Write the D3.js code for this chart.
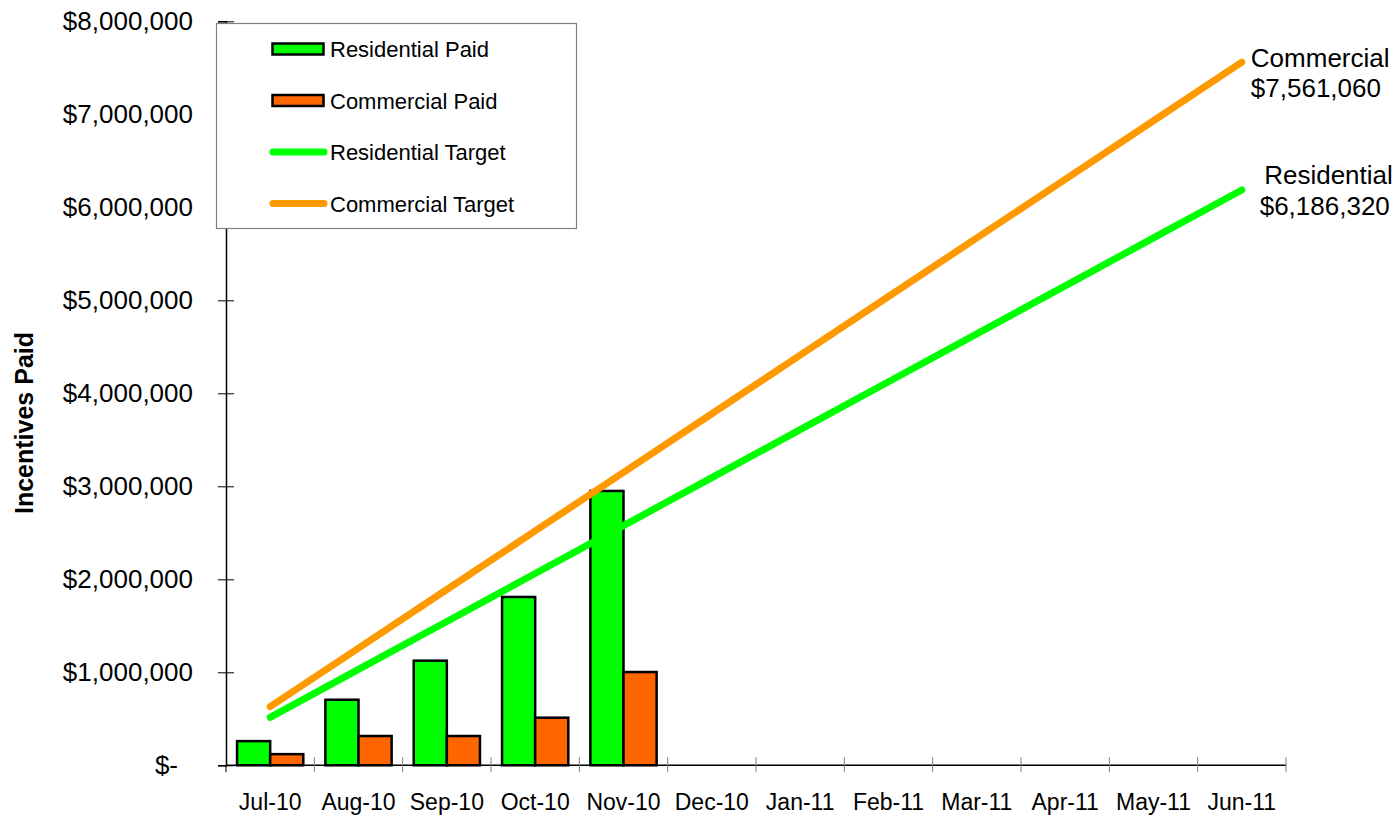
<!DOCTYPE html>
<html>
<head>
<meta charset="utf-8">
<script src="https://cdn.jsdelivr.net/npm/d3@7"></script>
<style>
  body { margin: 0; background: #fff; }
  svg { display: block; font-family: Arial, "Liberation Sans", sans-serif; }
</style>
</head>
<body>
<svg id="chart" width="1399" height="818"></svg>
<script>
// chart data
var months = ['Jul-10', 'Aug-10', 'Sep-10', 'Oct-10', 'Nov-10', 'Dec-10',
	'Jan-11', 'Feb-11', 'Mar-11', 'Apr-11', 'May-11', 'Jun-11'];
var residentialPaid = [260000, 705000, 1125000, 1810000, 2950000];
var commercialPaid = [120000, 315000, 315000, 512000, 1003000];
var residentialTarget = [515527, 1031053, 1546580, 2062107, 2577633, 3093160,
	3608687, 4124213, 4639740, 5155267, 5670793, 6186320];
var commercialTarget = [630088, 1260177, 1890265, 2520353, 3150442, 3780530,
	4410618, 5040707, 5670795, 6300883, 6930972, 7561060];
var yTicks = [0, 1000000, 2000000, 3000000, 4000000, 5000000, 6000000, 7000000, 8000000];
var legendItems = [
	{ label: 'Residential Paid', type: 'bar', color: '#00ff00' },
	{ label: 'Commercial Paid', type: 'bar', color: '#ff6600' },
	{ label: 'Residential Target', type: 'line', color: '#00ff00' },
	{ label: 'Commercial Target', type: 'line', color: '#ff9900' }
];

var plotLeft = 226,
	plotRight = 1286,
	plotTop = 21.3,
	plotBottom = 765.3;

var svg = d3.select('#chart');

var xScale = d3.scaleBand()
	.domain(months)
	.range([plotLeft, plotRight]);

var subScale = d3.scaleBand()
	.domain(['res', 'com'])
	.range([xScale.bandwidth() * 0.125, xScale.bandwidth() * 0.875]);

var yScale = d3.scaleLinear()
	.domain([0, 8000000])
	.range([plotBottom, plotTop]);

var money = d3.format(',');

// y axis
var yAxis = svg.append('g')
	.attr('transform', 'translate(' + plotLeft + ',0)')
	.call(d3.axisLeft(yScale)
		.tickValues(yTicks)
		.tickSize(8)
		.tickPadding(25)
		.tickFormat(function(d) {
			return d === 0 ? '$-' : '$' + money(d);
		}));
yAxis.select('.domain').attr('stroke', '#000').attr('stroke-width', 1.5);
yAxis.selectAll('.tick line').attr('x1', 8).attr('stroke', '#000');
yAxis.selectAll('.tick text')
	.attr('font-size', 26)
	.attr('fill', '#000')
	.attr('font-family', 'Arial, "Liberation Sans", sans-serif');
// accounting style zero sits a little left
yAxis.selectAll('.tick text')
	.filter(function(d) { return d === 0; })
	.attr('x', -48);

// x axis
var xAxis = svg.append('g')
	.attr('transform', 'translate(0,' + plotBottom + ')')
	.call(d3.axisBottom(xScale)
		.tickSize(0)
		.tickPadding(28));
xAxis.select('.domain').remove();
xAxis.selectAll('.tick text')
	.attr('font-size', 23)
	.attr('fill', '#000')
	.attr('font-family', 'Arial, "Liberation Sans", sans-serif');

svg.append('line')
	.attr('x1', plotLeft)
	.attr('x2', plotRight)
	.attr('y1', plotBottom)
	.attr('y2', plotBottom)
	.attr('stroke', '#000')
	.attr('stroke-width', 1.5);

var boundaries = months.map(function(m) { return xScale(m); }).concat([plotRight]);
svg.selectAll('.xtick')
	.data(boundaries.slice(1))
	.enter()
	.append('line')
	.attr('class', 'xtick')
	.attr('x1', function(d) { return d; })
	.attr('x2', function(d) { return d; })
	.attr('y1', plotBottom - 8)
	.attr('y2', plotBottom + 7)
	.attr('stroke', '#808080')
	.attr('stroke-width', 1);

svg.append('line')
	.attr('x1', plotLeft)
	.attr('x2', plotLeft)
	.attr('y1', plotBottom)
	.attr('y2', plotBottom + 7)
	.attr('stroke', '#000');

// bars
var barData = [];
for (var i = 0; i < residentialPaid.length; i++) {
	barData.push({ month: months[i], key: 'res', value: residentialPaid[i], color: '#00ff00' });
	barData.push({ month: months[i], key: 'com', value: commercialPaid[i], color: '#ff6600' });
}

svg.selectAll('rect.bar')
	.data(barData)
	.enter()
	.append('rect')
	.attr('class', 'bar')
	.attr('x', function(d) { return xScale(d.month) + subScale(d.key); })
	.attr('y', function(d) { return yScale(d.value); })
	.attr('width', subScale.bandwidth())
	.attr('height', function(d) { return plotBottom - yScale(d.value); })
	.attr('fill', function(d) { return d.color; })
	.attr('stroke', '#000')
	.attr('stroke-width', 2.5);

// target lines
var line = d3.line()
	.x(function(d, i) { return xScale(months[i]) + xScale.bandwidth() / 2; })
	.y(function(d) { return yScale(d); });

svg.append('path')
	.datum(residentialTarget)
	.attr('d', line)
	.attr('fill', 'none')
	.attr('stroke', '#00ff00')
	.attr('stroke-width', 7)
	.attr('stroke-linecap', 'round');

svg.append('path')
	.datum(commercialTarget)
	.attr('d', line)
	.attr('fill', 'none')
	.attr('stroke', '#ff9900')
	.attr('stroke-width', 7)
	.attr('stroke-linecap', 'round');

// end labels
var lastX = xScale(months[11]) + xScale.bandwidth() / 2;
var comY = yScale(commercialTarget[11]);
var resY = yScale(residentialTarget[11]);

var comLabel = svg.append('text')
	.attr('x', lastX + 9)
	.attr('y', comY + 5)
	.attr('font-size', 26)
	.attr('fill', '#000');
comLabel.append('tspan').attr('x', lastX + 9).text('Commercial');
comLabel.append('tspan').attr('x', lastX + 9).attr('dy', 30).text('$' + money(commercialTarget[11]));

var resLabel = svg.append('text')
	.attr('y', resY - 6)
	.attr('font-size', 26)
	.attr('fill', '#000')
	.attr('text-anchor', 'end');
resLabel.append('tspan').attr('x', lastX + 151).text('Residential');
resLabel.append('tspan').attr('x', lastX + 148).attr('dy', 31).text('$' + money(residentialTarget[11]));

// y axis title
svg.append('text')
	.attr('transform', 'translate(33,423) rotate(-90)')
	.attr('text-anchor', 'middle')
	.attr('font-size', 25)
	.attr('font-weight', 'bold')
	.attr('fill', '#000')
	.text('Incentives Paid');

// legend
var legend = svg.append('g');
legend.append('rect')
	.attr('x', 216.5)
	.attr('y', 23.5)
	.attr('width', 360)
	.attr('height', 205)
	.attr('fill', '#fff')
	.attr('stroke', '#808080')
	.attr('stroke-width', 1.2);

var items = legend.selectAll('g.item')
	.data(legendItems)
	.enter()
	.append('g')
	.attr('class', 'item')
	.attr('transform', function(d, i) { return 'translate(0,' + (49 + i * 51.5) + ')'; });

items.filter(function(d) { return d.type === 'bar'; })
	.append('rect')
	.attr('x', 272.5)
	.attr('y', -5.5)
	.attr('width', 51)
	.attr('height', 11)
	.attr('fill', function(d) { return d.color; })
	.attr('stroke', '#000')
	.attr('stroke-width', 2.5);

items.filter(function(d) { return d.type === 'line'; })
	.append('line')
	.attr('x1', 273)
	.attr('x2', 324)
	.attr('y1', 0)
	.attr('y2', 0)
	.attr('stroke', function(d) { return d.color; })
	.attr('stroke-width', 7)
	.attr('stroke-linecap', 'round');

items.append('text')
	.attr('x', 330)
	.attr('y', 8)
	.attr('font-size', 22)
	.attr('fill', '#000')
	.text(function(d) { return d.label; });
</script>
</body>
</html>
